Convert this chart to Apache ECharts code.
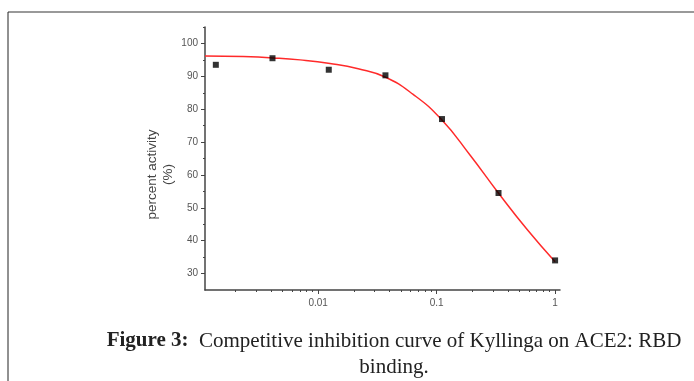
<!DOCTYPE html>
<html>
<head>
<meta charset="utf-8">
<script src="https://cdn.jsdelivr.net/npm/echarts@6/dist/echarts.min.js"></script>
<style>
  html, body { margin: 0; padding: 0; background: #fff; }
  #chart { width: 694px; height: 381px; }
</style>
</head>
<body>
<div id="chart"></div>
<script>
// measured points (concentration, percent activity)
var concentration = [0.00137, 0.00412, 0.0123, 0.037, 0.111, 0.333, 1];
var activity = [93.5, 95.5, 92, 90.3, 77, 54.5, 34];

// fitted curve
var fitX = [0.00111, 0.00233, 0.0042, 0.00705, 0.0126, 0.0218, 0.0367, 0.0634, 0.109, 0.192, 0.331, 0.581, 1];
var fitY = [96.2, 96.0, 95.6, 95.0, 93.9, 92.3, 89.8, 84.5, 77, 66, 54.6, 43.4, 33.6];

var xMajor = [0.01, 0.1, 1];
var xMinor = [0.002, 0.003, 0.004, 0.005, 0.006, 0.007, 0.008, 0.009,
              0.02, 0.03, 0.04, 0.05, 0.06, 0.07, 0.08, 0.09,
              0.2, 0.3, 0.4, 0.5, 0.6, 0.7, 0.8, 0.9];
var yMajor = [30, 40, 50, 60, 70, 80, 90, 100];
var yMinor = [35, 45, 55, 65, 75, 85, 95, 105];

var chartDom = document.getElementById('chart');
var myChart = echarts.init(chartDom);

var axisColor = '#444';
var labelStyle = { color: '#555', fontSize: 10, fontFamily: 'Liberation Sans' };

var option = {
    animation: false,
    backgroundColor: '#fff',
    grid: { left: 205, right: 134, top: 27, bottom: 91, containLabel: false },
    xAxis: [
        {
            type: 'log', min: 0.00111, max: 1.1,
            axisLine: { show: true, lineStyle: { color: axisColor, width: 1.5 } },
            axisTick: { show: true, length: 4, inside: false, customValues: xMajor, lineStyle: { color: axisColor } },
            axisLabel: Object.assign({ customValues: xMajor, margin: 8, formatter: function (v) { return String(+v.toPrecision(3)); } }, labelStyle),
            splitLine: { show: false }, minorTick: { show: false }
        },
        {
            type: 'log', min: 0.00111, max: 1.1, position: 'bottom',
            axisLine: { show: false },
            axisTick: { show: true, length: 2, customValues: xMinor, lineStyle: { color: axisColor } },
            axisLabel: { show: false },
            splitLine: { show: false }
        }
    ],
    yAxis: [
        {
            type: 'value', min: 25, max: 105,
            name: 'percent activity\n(%)', nameLocation: 'middle', nameGap: 29, nameRotate: 90,
            nameMoveOverlap: false,
            nameTextStyle: { color: '#444', fontSize: 13.5, fontFamily: 'Liberation Sans', lineHeight: 16, padding: [0, 32, 0, 0] },
            axisLine: { show: true, lineStyle: { color: axisColor, width: 1.5 } },
            axisTick: { show: true, length: 4, customValues: yMajor, lineStyle: { color: axisColor } },
            axisLabel: Object.assign({ customValues: yMajor, margin: 7 }, labelStyle),
            splitLine: { show: false }
        },
        {
            type: 'value', min: 25, max: 105, position: 'left',
            axisLine: { show: false },
            axisTick: { show: true, length: 2, customValues: yMinor, lineStyle: { color: axisColor } },
            axisLabel: { show: false },
            splitLine: { show: false }
        }
    ],
    graphic: [
        { type: 'line', shape: { x1: 8, y1: 12, x2: 694, y2: 12 }, style: { stroke: '#777', lineWidth: 1.5 } },
        { type: 'line', shape: { x1: 8, y1: 12, x2: 8, y2: 381 }, style: { stroke: '#222', lineWidth: 1 } },
        {
            type: 'text', x: 394, y: 341,
            style: {
                text: '{b|Figure 3:}  Competitive inhibition curve of Kyllinga on ACE2: RBD',
                align: 'center', verticalAlign: 'middle',
                fontFamily: 'Liberation Serif', fontSize: 21, fill: '#222',
                rich: { b: { fontFamily: 'Liberation Serif', fontSize: 21, fontWeight: 'bold', fill: '#222' } }
            }
        },
        {
            type: 'text', x: 394, y: 367,
            style: { text: 'binding.', align: 'center', verticalAlign: 'middle', fontFamily: 'Liberation Serif', fontSize: 21, fill: '#222' }
        }
    ],
    series: [
        {
            type: 'line', name: 'fit', xAxisIndex: 0, yAxisIndex: 0,
            data: fitX.map(function (x, i) { return [x, fitY[i]]; }),
            smooth: true, showSymbol: false,
            lineStyle: { color: '#ff2a2a', width: 1.5 }, z: 2
        },
        {
            type: 'scatter', name: 'data', xAxisIndex: 0, yAxisIndex: 0,
            data: concentration.map(function (x, i) { return [x, activity[i]]; }),
            symbol: 'rect', symbolSize: 6,
            itemStyle: { color: '#000' }, z: 3
        }
    ]
};

myChart.setOption(option);
</script>
</body>
</html>
